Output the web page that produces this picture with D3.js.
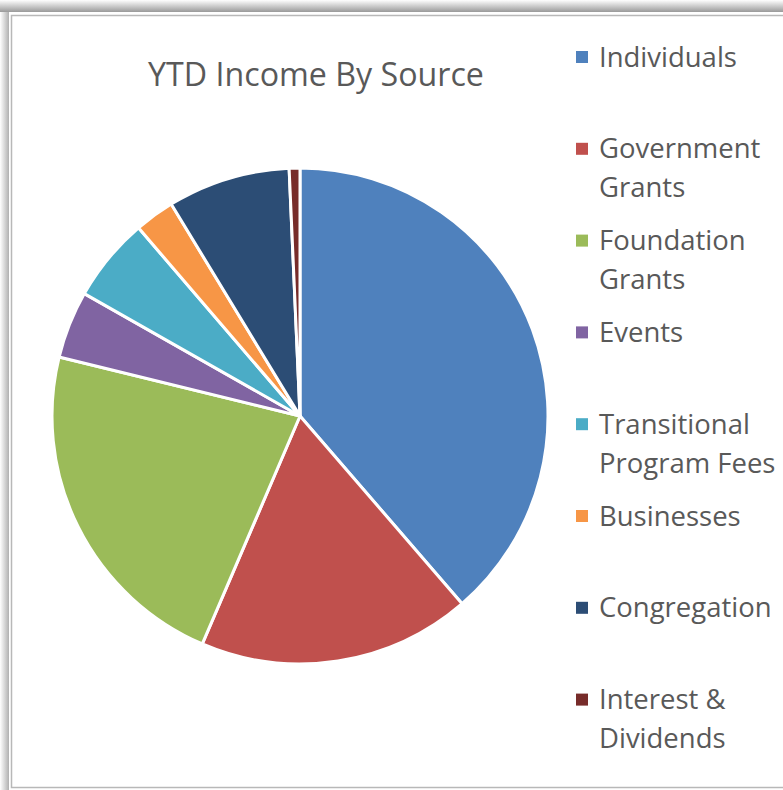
<!DOCTYPE html>
<html>
<head>
<meta charset="utf-8">
<script src="https://cdn.jsdelivr.net/npm/d3@7/dist/d3.min.js"></script>
<style>
  html, body { margin: 0; padding: 0; background: #fff; }
  svg { display: block; }
</style>
</head>
<body>
<script>
const title = "YTD Income By Source";
const categories = ["Individuals", "Government Grants", "Foundation Grants", "Events",
  "Transitional Program Fees", "Businesses", "Congregation", "Interest & Dividends"];
const values = [38.7, 17.8, 22.4, 4.4, 5.5, 2.6, 8.0, 0.7];
const colors = ["#4F81BD", "#C0504D", "#9BBB59", "#8064A2", "#4BACC6", "#F79646", "#2C4D75", "#772C2A"];

const W = 783, H = 790;
const svg = d3.select("body").append("svg").attr("width", W).attr("height", H);
const defs = svg.append("defs");

const gTop = defs.append("linearGradient").attr("id", "shTop").attr("x1", 0).attr("y1", 0).attr("x2", 0).attr("y2", 1);
gTop.append("stop").attr("offset", "0%").attr("stop-color", "#ffffff");
gTop.append("stop").attr("offset", "100%").attr("stop-color", "#9a9a9a");
const gLeft = defs.append("linearGradient").attr("id", "shLeft").attr("x1", 0).attr("y1", 0).attr("x2", 1).attr("y2", 0);
gLeft.append("stop").attr("offset", "0%").attr("stop-color", "#ffffff");
gLeft.append("stop").attr("offset", "100%").attr("stop-color", "#b0b0b0");

// frame / shadow
svg.append("rect").attr("x", 0).attr("y", 0).attr("width", W).attr("height", 12).attr("fill", "url(#shTop)");
svg.append("rect").attr("x", 0).attr("y", 12).attr("width", 9).attr("height", H - 12).attr("fill", "url(#shLeft)");
svg.append("rect").attr("x", 11.5).attr("y", 15.5).attr("width", W + 20).attr("height", 772)
  .attr("fill", "#fff").attr("stroke", "#b8b8b8").attr("stroke-width", 1.5);

const font = "'Open Sans', 'DejaVu Sans', sans-serif";
const textColor = "#595959";

// title, fitted to width
const t = svg.append("text").attr("x", 316).attr("y", 86).attr("text-anchor", "middle")
  .attr("font-family", font).attr("font-size", 30).attr("fill", textColor).text(title);
const tw = t.node().getComputedTextLength();
t.attr("font-size", 30 * 336 / tw);

// pie
const cx = 300, cy = 416, r = 248;
const pie = d3.pie().sort(null).value(d => d)(values);
const arc = d3.arc().innerRadius(0).outerRadius(r);
svg.append("g").attr("transform", `translate(${cx},${cy})`)
  .selectAll("path").data(pie).join("path")
  .attr("d", arc)
  .attr("fill", (d, i) => colors[i])
  .attr("stroke", "#fff").attr("stroke-width", 3).attr("stroke-linejoin", "round");

// legend
const leg = svg.append("g");
const probe = leg.append("text").attr("font-family", font).attr("font-size", 28).text(categories[0]);
const fs = 28 * 138 / probe.node().getComputedTextLength();
probe.remove();

const legX = 576, textX = 599, firstY = 57, step = 91.8, lineH = 39, maxW = 185;
categories.forEach((c, i) => {
  const y0 = firstY + i * step;
  leg.append("rect").attr("x", legX).attr("y", y0 - 6).attr("width", 12).attr("height", 12).attr("fill", colors[i]);
  const txt = leg.append("text").attr("font-family", font).attr("font-size", fs).attr("fill", textColor);
  // word wrap
  const words = c.split(" ");
  let lines = [], cur = "";
  const meas = leg.append("text").attr("font-family", font).attr("font-size", fs);
  words.forEach(w => {
    const test = cur ? cur + " " + w : w;
    meas.text(test);
    if (meas.node().getComputedTextLength() > maxW && cur) { lines.push(cur); cur = w; }
    else cur = test;
  });
  lines.push(cur);
  meas.remove();
  lines.forEach((l, j) => {
    txt.append("tspan").attr("x", textX).attr("y", y0 + j * lineH).attr("dy", "0.35em").text(l);
  });
});
</script>
</body>
</html>
